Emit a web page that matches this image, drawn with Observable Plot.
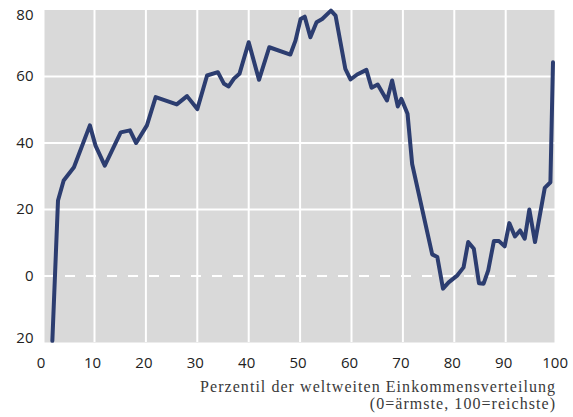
<!DOCTYPE html>
<html><head><meta charset="utf-8">
<script src="https://cdn.jsdelivr.net/npm/d3@7"></script>
<script src="https://cdn.jsdelivr.net/npm/@observablehq/plot@0.6"></script>
<style>
body{margin:0;background:#fff;}
text[aria-label="caption"]{letter-spacing:1.05px;}
</style>
</head><body><div id="chart"></div>
<script>
const percentile = [1.8,2.9,4.0,6.0,9.1,10.2,12.0,15.1,16.9,18.1,20.2,21.9,26.0,28.0,30.0,31.9,34.0,35.2,36.1,37.1,38.2,40.0,42.0,44.0,48.1,49.1,50.1,50.9,52.0,53.2,54.3,56.0,56.9,58.8,59.8,61.1,62.9,63.9,65.1,66.9,67.9,69.0,69.7,70.9,71.8,75.7,76.7,77.8,78.9,80.6,81.8,82.7,83.8,84.8,85.7,86.6,87.7,88.7,89.8,90.7,91.8,92.8,93.7,94.6,95.7,97.6,98.7,99.2];
const growth = [-19.5,22.7,28.7,32.7,45.3,39.2,33.2,43.2,43.8,40.0,45.3,53.8,51.6,54.1,50.2,60.3,61.3,57.8,57.0,59.3,60.8,70.3,59.0,68.8,66.6,70.8,77.3,78.0,71.8,76.3,77.3,79.8,78.3,62.3,59.1,60.6,62.0,56.6,57.6,52.8,58.8,51.0,53.3,48.8,33.7,6.5,5.7,-3.8,-1.9,0.2,2.6,10.2,8.2,-2.2,-2.3,1.7,10.5,10.5,8.9,15.9,11.9,13.7,11.2,20,10.2,26.5,28.2,64.3];
const xTicks = [0,10,20,30,40,50,60,70,80,90,100];
const yTicks = [-20,0,20,40,60,80];
const xGrid = [10,20,30,40,50,60,70,80,90];
const yGrid = [20,40,60];
const captionLines = ["Perzentil der weltweiten Einkommensverteilung", "(0=ärmste, 100=reichste)"];

const data = percentile.map((p, i) => ({p, g: growth[i]}));
const fmt = d => String(Math.abs(d));
const axOpts = {tickSize: 0, tickPadding: 9.6, tickFormat: fmt, label: null, fontSize: 15};

const chart = Plot.plot({
  width: 573, height: 417,
  marginLeft: 42.6, marginRight: 16.4, marginTop: 9.5, marginBottom: 75,
  x: {domain: [0, 100], label: null},
  y: {domain: [-20, 80], label: null},
  style: {fontFamily: "'Open Sans', sans-serif", fontSize: "15px", color: "#222", background: "#fff"},
  marks: [
    Plot.frame({fill: "#d9d9d9", stroke: null, insetLeft: 1.4, insetRight: 2.6}),
    Plot.ruleX(xGrid, {stroke: "#fff", strokeWidth: 2}),
    Plot.ruleY(yGrid, {stroke: "#fff", strokeWidth: 2}),
    Plot.ruleY([0], {stroke: "#fff", strokeWidth: 2, strokeDasharray: "10,11", insetLeft: 1.4}),
    Plot.line(data, {x: "p", y: "g", stroke: "#2c3d70", strokeWidth: 4}),
    Plot.axisY(yTicks.filter(d => d > -20 && d < 80), axOpts),
    Plot.axisY(yTicks.filter(d => d === 80), {...axOpts, dy: 5.5}),
    Plot.axisY(yTicks.filter(d => d === -20), {...axOpts, dy: -4}),
    Plot.axisX(xTicks, {tickSize: 0, tickPadding: 15, dx: -2, label: null, fontSize: 15}),
    Plot.text([captionLines.join("\n")], {
      frameAnchor: "bottom-right", textAnchor: "end", lineAnchor: "top", lineHeight: 17 / 16,
      fontFamily: "'Liberation Serif', serif", fontSize: 16, fill: "#3a3a3a",
      ariaLabel: () => "caption", dx: -1, dy: 37.1
    })
  ]
});
document.getElementById("chart").appendChild(chart);
</script>
</body></html>
